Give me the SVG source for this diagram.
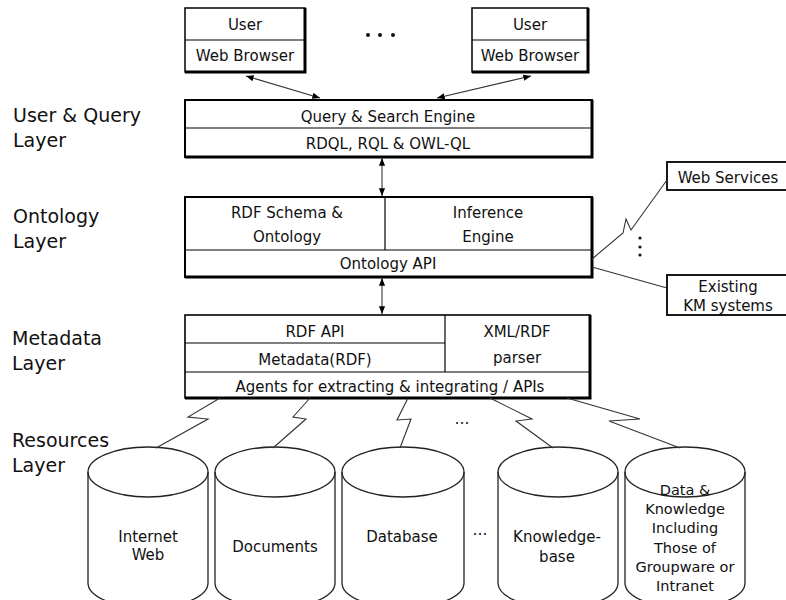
<svg xmlns="http://www.w3.org/2000/svg" width="786" height="600" viewBox="0 0 786 600">
<style>
.bg{fill:#fff}
.box{fill:#fff;stroke:#000;stroke-width:2}
.sh{fill:none;stroke:#000;stroke-width:3}
.div{fill:none;stroke:#000;stroke-width:1.2}
.t{font-family:"DejaVu Sans",sans-serif;font-size:15px;text-anchor:middle;fill:#111}
.ts{font-family:"DejaVu Sans",sans-serif;font-size:14.5px;text-anchor:middle;fill:#111}
.lab{font-family:"DejaVu Sans",sans-serif;font-size:19px;fill:#111}
.conn{fill:none;stroke:#333;stroke-width:1.1}
.cyl{fill:#fff;stroke:#222;stroke-width:1.3}
.dot{fill:#111}
</style>
<defs>
<marker id="ah" viewBox="0 0 10 10" refX="10" refY="5" markerWidth="7" markerHeight="7" orient="auto-start-reverse"><path d="M0,1 L10,5 L0,9 Z" fill="#000"/></marker>
</defs>
<rect class="bg" x="0" y="0" width="786" height="600"/>

<g id="layer-labels">
<text class="lab" x="13" y="122">User &amp; Query</text>
<text class="lab" x="13" y="147">Layer</text>
<text class="lab" x="13" y="223">Ontology</text>
<text class="lab" x="13" y="248">Layer</text>
<text class="lab" x="12" y="345">Metadata</text>
<text class="lab" x="12" y="370">Layer</text>
<text class="lab" x="12" y="447">Resources</text>
<text class="lab" x="12" y="472">Layer</text>
</g>

<g id="user1">
<rect class="box" x="185" y="8" width="120" height="64" style="stroke-width:1.5"/>
<polyline class="sh" points="305,8 305,72 185,72"/>
<line class="div" x1="185" y1="40" x2="305" y2="40"/>
<text class="t" x="245" y="30">User</text>
<text class="t" x="245" y="61">Web Browser</text>
</g>
<g id="user2">
<rect class="box" x="472" y="8" width="116" height="64" style="stroke-width:1.5"/>
<polyline class="sh" points="588,8 588,72 472,72"/>
<line class="div" x1="472" y1="40" x2="588" y2="40"/>
<text class="t" x="530" y="30">User</text>
<text class="t" x="530" y="61">Web Browser</text>
</g>
<g id="user-dots">
<circle class="dot" cx="368" cy="35" r="2"/>
<circle class="dot" cx="380" cy="35" r="2"/>
<circle class="dot" cx="393" cy="35" r="2"/>
</g>

<g id="query">
<rect class="box" x="185" y="100" width="407" height="57"/>
<polyline class="sh" points="592,100 592,157 185,157"/>
<line class="div" x1="185" y1="128" x2="592" y2="128"/>
<text class="t" x="388" y="122">Query &amp; Search Engine</text>
<text class="t" x="388" y="149">RDQL, RQL &amp; OWL-QL</text>
</g>

<g id="ontology">
<rect class="box" x="185" y="197" width="407" height="80"/>
<polyline class="sh" points="592,197 592,277 185,277"/>
<line class="div" x1="385" y1="197" x2="385" y2="250"/>
<line class="div" x1="185" y1="250" x2="592" y2="250"/>
<text class="t" x="287" y="218">RDF Schema &amp;</text>
<text class="t" x="287" y="242">Ontology</text>
<text class="t" x="488" y="218">Inference</text>
<text class="t" x="488" y="242">Engine</text>
<text class="t" x="388" y="269">Ontology API</text>
</g>

<g id="metadata">
<rect class="box" x="185" y="315" width="405" height="83" style="stroke-width:1.6"/>
<polyline class="sh" points="590,315 590,398 185,398"/>
<line class="div" x1="445" y1="315" x2="445" y2="372"/>
<line class="div" x1="185" y1="343" x2="445" y2="343"/>
<line class="div" x1="185" y1="372" x2="590" y2="372"/>
<text class="t" x="315" y="337">RDF API</text>
<text class="t" x="315" y="365">Metadata(RDF)</text>
<text class="t" x="517" y="337">XML/RDF</text>
<text class="t" x="517" y="363">parser</text>
<text class="t" x="390" y="392">Agents for extracting &amp; integrating / APIs</text>
</g>

<g id="web-services">
<rect class="box" x="667" y="162" width="125" height="28" style="stroke-width:1.8"/>
<text class="t" x="728" y="183">Web Services</text>
</g>
<g id="km-systems">
<rect class="box" x="667" y="275" width="125" height="40" style="stroke-width:1.8"/>
<text class="t" x="728" y="292">Existing</text>
<text class="t" x="728" y="311">KM systems</text>
</g>
<g id="ext-dots">
<circle class="dot" cx="640" cy="238" r="1.6"/>
<circle class="dot" cx="640" cy="247" r="1.6"/>
<circle class="dot" cx="640" cy="255" r="1.6"/>
</g>

<g id="cyl-internet">
<path class="cyl" d="M88,472 A60,25 0 0 1 208,472 L208,583 A60,25 0 0 1 88,583 Z"/>
<path class="cyl" style="fill:none" d="M88,472 A60,25 0 0 0 208,472"/>
<text class="t" x="148" y="542">Internet</text>
<text class="t" x="148" y="560">Web</text>
</g>
<g id="cyl-documents">
<path class="cyl" d="M215,472 A60,25 0 0 1 335,472 L335,583 A60,25 0 0 1 215,583 Z"/>
<path class="cyl" style="fill:none" d="M215,472 A60,25 0 0 0 335,472"/>
<text class="t" x="275" y="552">Documents</text>
</g>
<g id="cyl-database">
<path class="cyl" d="M342,472 A61,25 0 0 1 464,472 L464,583 A61,25 0 0 1 342,583 Z"/>
<path class="cyl" style="fill:none" d="M342,472 A61,25 0 0 0 464,472"/>
<text class="t" x="402" y="542">Database</text>
</g>
<g id="res-dots">
<text class="t" x="480" y="535">…</text>
</g>
<g id="cyl-knowledge">
<path class="cyl" d="M498,472 A60,25 0 0 1 618,472 L618,583 A60,25 0 0 1 498,583 Z"/>
<path class="cyl" style="fill:none" d="M498,472 A60,25 0 0 0 618,472"/>
<text class="t" x="557" y="542">Knowledge-</text>
<text class="t" x="557" y="562">base</text>
</g>
<g id="cyl-data">
<path class="cyl" d="M625,472 A60,25 0 0 1 745,472 L745,583 A60,25 0 0 1 625,583 Z"/>
<path class="cyl" style="fill:none" d="M625,472 A60,25 0 0 0 745,472"/>
<text class="ts" x="685" y="495">Data &amp;</text>
<text class="ts" x="685" y="514">Knowledge</text>
<text class="ts" x="685" y="533">Including</text>
<text class="ts" x="685" y="553">Those of</text>
<text class="ts" x="685" y="572">Groupware or</text>
<text class="ts" x="685" y="591">Intranet</text>
</g>

<g id="connectors">
<line class="conn" x1="320" y1="98" x2="246" y2="76" marker-start="url(#ah)" marker-end="url(#ah)"/>
<line class="conn" x1="437" y1="98" x2="531" y2="76" marker-start="url(#ah)" marker-end="url(#ah)"/>
<line class="conn" x1="382" y1="158" x2="382" y2="196" marker-start="url(#ah)" marker-end="url(#ah)"/>
<line class="conn" x1="382" y1="278" x2="382" y2="314" marker-start="url(#ah)" marker-end="url(#ah)"/>
<polyline class="conn" points="592,259 623,233 626,219 631,230 667,180"/>
<line class="conn" x1="592" y1="267" x2="667" y2="288"/>
<polyline class="conn" points="220,398 188,417 208,419 156,448"/>
<polyline class="conn" points="310,398 293,417 306,419 273,448"/>
<polyline class="conn" points="408,398 397,420 411,419 400,448"/>
<polyline class="conn" points="490,398 532,419 516,421 553,448"/>
<polyline class="conn" points="567,398 640,419 609,421 680,448"/>
<text class="t" x="462" y="424">…</text>
</g>
</svg>
